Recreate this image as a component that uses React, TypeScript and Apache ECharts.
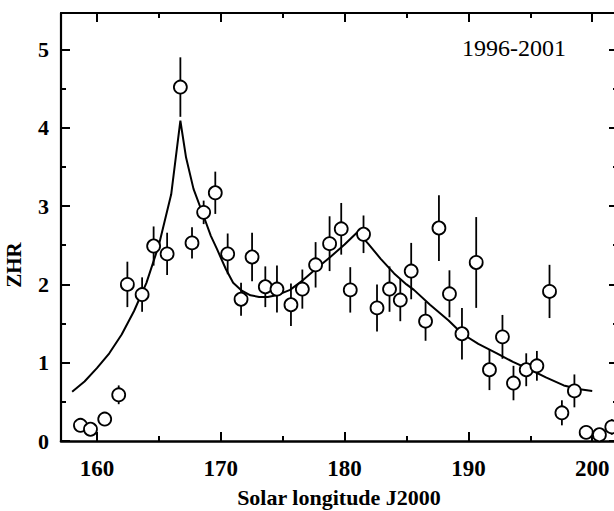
import React, { useEffect, useRef } from "react";
import * as echarts from "echarts";

// Observed ZHR points
const solarLongitude = [
  158.67, 159.48, 160.63, 161.76, 162.46, 163.65, 164.58, 165.67, 166.74, 167.68,
  168.62, 169.56, 170.56, 171.64, 172.53, 173.6, 174.54, 175.67, 176.59, 177.66,
  178.79, 179.73, 180.46, 181.53, 182.62, 183.63, 184.5, 185.38, 186.54, 187.62,
  188.47, 189.48, 190.63, 191.7, 192.75, 193.64, 194.67, 195.53, 196.55, 197.55,
  198.56, 199.51, 200.58, 201.58,
];
const zhr = [
  0.2, 0.15, 0.28, 0.59, 2.0, 1.87, 2.49, 2.39, 4.52, 2.53,
  2.92, 3.17, 2.39, 1.81, 2.35, 1.97, 1.94, 1.74, 1.94, 2.25,
  2.52, 2.71, 1.93, 2.64, 1.7, 1.94, 1.8, 2.17, 1.53, 2.72,
  1.88, 1.37, 2.28, 0.91, 1.33, 0.74, 0.91, 0.96, 1.91, 0.36,
  0.64, 0.11, 0.08, 0.18,
];
const zhrError = [
  0, 0.05, 0.08, 0.12, 0.29, 0.22, 0.25, 0.27, 0.38, 0.2,
  0.15, 0.27, 0.26, 0.21, 0.31, 0.26, 0.3, 0.27, 0.25, 0.29,
  0.35, 0.33, 0.29, 0.24, 0.3, 0.29, 0.27, 0.36, 0.25, 0.42,
  0.3, 0.33, 0.58, 0.26, 0.28, 0.22, 0.21, 0.19, 0.34, 0.16,
  0.21, 0, 0, 0.1,
];

// Model curve
const modelLongitude = [
  158.0, 159.0, 160.0, 161.0, 162.0, 163.0, 164.0, 165.0, 166.0, 166.74,
  167.2, 167.8, 168.6, 169.2, 169.7, 170.4, 171.0, 171.7, 172.4, 173.1,
  173.8, 174.5, 175.6, 176.6, 177.7, 178.85, 180.0, 181.05, 181.9, 182.9,
  184.0, 185.0, 185.6, 186.9, 188.4, 189.5, 190.8, 192.3, 193.6, 195.0,
  196.3, 197.7, 199.0, 200.0,
];
const modelZhr = [
  0.63, 0.76, 0.93, 1.12, 1.36, 1.66, 2.02, 2.5, 3.15, 4.09,
  3.62, 3.22, 2.88, 2.62, 2.45, 2.2, 2.02, 1.92, 1.86, 1.84,
  1.84, 1.86, 1.93, 2.05, 2.2, 2.35, 2.51, 2.67, 2.52, 2.33,
  2.14, 2.0, 1.93, 1.74, 1.54, 1.37, 1.24, 1.12, 1.01, 0.91,
  0.81, 0.71, 0.66, 0.64,
];

const xMajorTicks = [160, 170, 180, 190, 200];
const xMinorTicks = [165, 175, 185, 195];
const yMajorTicks = [0, 1, 2, 3, 4, 5];
const yMinorTicks = [0.5, 1.5, 2.5, 3.5, 4.5];
const periodLabel = "1996-2001";

const SERIF = "Liberation Serif";

export default function App() {
  const ref = useRef<HTMLDivElement>(null);
  useEffect(() => {
    if (!ref.current) return;
    const chart = echarts.init(ref.current, null, { renderer: "svg" });
    const xMin = 157.1;
    const xMax = 202.0;
    const yMin = 0;
    const yMax = 5.466;
    const black = "#000";
    const mkX = (pos: string, ticks: number[], len: number, main: boolean) => ({
      type: "value",
      min: xMin,
      max: xMax,
      position: pos,
      axisLine: { show: main, onZero: false, lineStyle: { color: black, width: pos === "bottom" ? 2.6 : 2.2 } },
      axisTick: { show: true, inside: true, length: len, customValues: ticks, lineStyle: { color: black, width: 2 } },
      axisLabel: main && pos === "bottom"
        ? { show: true, customValues: ticks, color: black, fontFamily: SERIF, fontWeight: "bold", fontSize: 23, margin: 16 }
        : { show: false },
      splitLine: { show: false },
      ...(main && pos === "bottom"
        ? {
            name: "Solar longitude J2000",
            nameLocation: "middle",
            nameGap: 45,
            nameTextStyle: { color: black, fontFamily: SERIF, fontWeight: "bold", fontSize: 22 },
          }
        : {}),
    });
    const mkY = (pos: string, ticks: number[], len: number, main: boolean) => ({
      type: "value",
      min: yMin,
      max: yMax,
      position: pos,
      axisLine: { show: main, onZero: false, lineStyle: { color: black, width: 2.2 } },
      axisTick: { show: true, inside: true, length: len, customValues: ticks, lineStyle: { color: black, width: 2 } },
      axisLabel: main && pos === "left"
        ? { show: true, customValues: ticks, color: black, fontFamily: SERIF, fontWeight: "bold", fontSize: 22, margin: 12 }
        : { show: false },
      splitLine: { show: false },
    });

    const points = solarLongitude.map((x, i) => [x, zhr[i]]);
    const bars = solarLongitude.map((x, i) => [x, zhr[i], zhrError[i]]);
    const model = modelLongitude.map((x, i) => [x, modelZhr[i]]);

    chart.setOption({
      animation: false,
      backgroundColor: "#fff",
      textStyle: { fontFamily: SERIF },
      grid: { left: 61, top: 13, width: 556, height: 428, outerBoundsMode: "none", containLabel: false },
      xAxis: [
        mkX("bottom", xMajorTicks, 9, true),
        mkX("bottom", xMinorTicks, 5, false),
        mkX("top", xMajorTicks, 9, true),
        mkX("top", xMinorTicks, 5, false),
      ],
      yAxis: [
        mkY("left", yMajorTicks, 9, true),
        mkY("left", yMinorTicks, 5, false),
        mkY("right", yMajorTicks, 8, true),
        mkY("right", yMinorTicks, 4, false),
      ],
      series: [
        {
          type: "line",
          data: model,
          showSymbol: false,
          smooth: false,
          lineStyle: { color: black, width: 2 },
          z: 1,
        },
        {
          type: "custom",
          data: bars,
          z: 2,
          renderItem: (params: any, api: any) => {
            const x = api.value(0);
            const y = api.value(1);
            const e = api.value(2);
            if (!e) return null;
            const p1 = api.coord([x, y - e]);
            const p2 = api.coord([x, y + e]);
            return {
              type: "line",
              shape: { x1: p1[0], y1: p1[1], x2: p2[0], y2: p2[1] },
              style: { stroke: black, lineWidth: 1.8 },
            };
          },
        },
        {
          type: "scatter",
          data: points,
          symbol: "circle",
          symbolSize: 13,
          clip: false,
          itemStyle: { color: "#fff", borderColor: black, borderWidth: 1.8, opacity: 1 },
          z: 3,
        },
      ],
      graphic: [
        {
          type: "text",
          x: 14,
          y: 265,
          rotation: Math.PI / 2,
          style: {
            text: "ZHR",
            fontFamily: SERIF,
            fontWeight: "bold",
            fontSize: 21,
            fill: black,
            textAlign: "center",
            textVerticalAlign: "middle",
          },
        },
        {
          type: "text",
          x: 462,
          y: 48,
          style: {
            text: periodLabel,
            fontFamily: SERIF,
            fontSize: 24,
            fill: black,
            textAlign: "left",
            textVerticalAlign: "middle",
          },
        },
      ],
    });
    return () => chart.dispose();
  }, []);
  return (
    <div
      ref={ref}
      style={{ position: "absolute", left: 0, top: 0, width: 614, height: 511 }}
    />
  );
}
